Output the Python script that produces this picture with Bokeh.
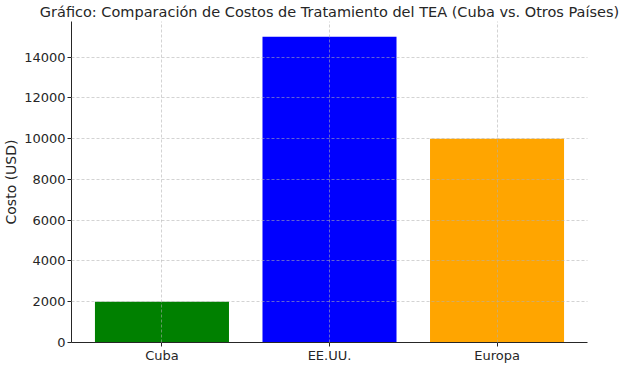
from bokeh.plotting import figure
from bokeh.models import Range1d, FixedTicker, ColumnDataSource
from bokeh.embed import file_html
from bokeh.resources import INLINE

categories = ["Cuba", "EE.UU.", "Europa"]
costs = [2000, 15000, 10000]
colors = ["#008000", "#0000ff", "#ffa500"]
y_ticks = [0, 2000, 4000, 6000, 8000, 10000, 12000, 14000]

xs = list(range(len(categories)))
src = ColumnDataSource(dict(x=xs, top=costs, color=colors))

p = figure(frame_width=516, frame_height=321, output_backend="svg", toolbar_location=None,
           x_range=Range1d(-0.54, len(categories) - 1 + 0.54),
           y_range=Range1d(0, max(costs) * 1.05),
           min_border_left=0, min_border_right=36, min_border_top=20, min_border_bottom=0)

p.title.text = "Gráfico: Comparación de Costos de Tratamiento del TEA (Cuba vs. Otros Países)"
p.title.text_font = "DejaVu Sans"
p.title.text_font_size = "14.5px"
p.title.text_font_style = "normal"
p.title.text_color = "#262626"
p.title.align = "center"
p.title.standoff = 3
p.title.offset = 0

p.vbar(x="x", top="top", width=0.8, color="color", source=src, line_color=None)

p.outline_line_color = None
p.background_fill_color = "white"
p.border_fill_color = "white"

for ax in (p.xaxis[0], p.yaxis[0]):
    ax.axis_line_color = "#262626"
    ax.axis_line_width = 1
    ax.major_tick_line_color = "#262626"
    ax.major_tick_out = 4
    ax.major_tick_in = 0
    ax.minor_tick_line_color = None
    ax.major_label_text_font = "DejaVu Sans"
    ax.major_label_text_font_size = "13px"
    ax.major_label_text_color = "#262626"

p.xaxis.ticker = FixedTicker(ticks=xs)
p.xaxis.major_label_overrides = {i: c for i, c in zip(xs, categories)}
p.xaxis.major_label_standoff = 1
p.yaxis.ticker = FixedTicker(ticks=y_ticks)
p.yaxis.major_label_standoff = 2

p.yaxis.axis_label = "Costo (USD)"
p.yaxis.axis_label_text_font = "DejaVu Sans"
p.yaxis.axis_label_text_font_size = "14px"
p.yaxis.axis_label_text_font_style = "normal"
p.yaxis.axis_label_text_color = "#262626"
p.yaxis.axis_label_standoff = 2

for g in (p.xgrid[0], p.ygrid[0]):
    g.grid_line_color = "#b0b0b0"
    g.grid_line_alpha = 0.7
    g.grid_line_dash = "3 2"
    g.grid_line_width = 0.8
    g.level = "overlay"

open("out.html", "w").write(file_html(p, INLINE))
